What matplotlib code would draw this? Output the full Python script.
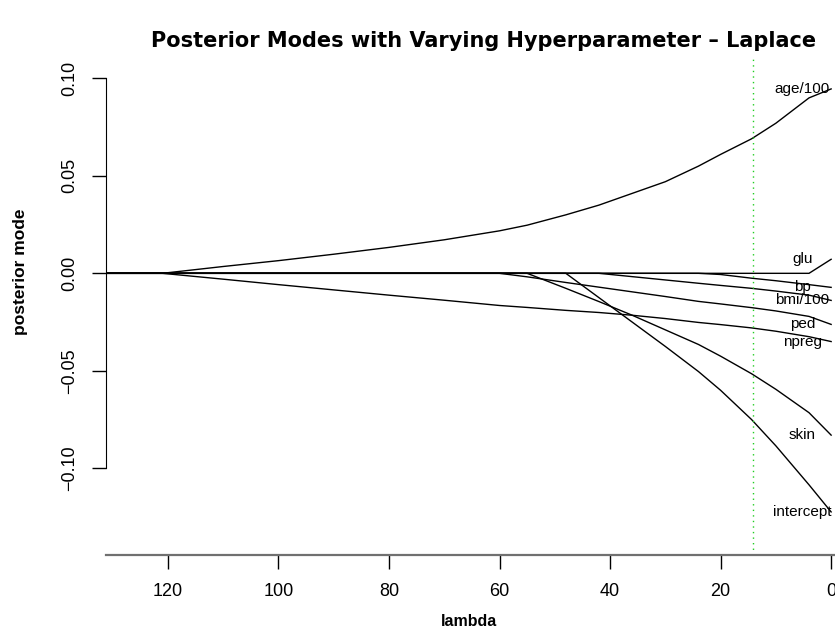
import matplotlib
matplotlib.use('Agg')
import matplotlib.pyplot as plt

plt.rcParams['font.family'] = ['Liberation Sans', 'DejaVu Sans']

# lambda grid shared by all coefficient paths
lam = [131, 121, 110, 100, 90, 80, 70, 60, 55, 48, 42, 36, 30, 24, 20, 14.4, 10, 4, 0]

age = [0, 0, 0.0035, 0.0065, 0.0098, 0.0133, 0.0172, 0.0218, 0.0247, 0.030, 0.035,
       0.041, 0.047, 0.055, 0.061, 0.069, 0.077, 0.090, 0.0946]
glu = [0, 0, 0, 0, 0, 0, 0, 0, 0, 0, 0, 0, 0, 0, 0, 0, 0, 0, 0.0072]
bp = [0, 0, 0, 0, 0, 0, 0, 0, 0, 0, 0, 0, 0, 0, -0.0006, -0.0025, -0.0038, -0.0058, -0.0072]
bmi = [0, 0, 0, 0, 0, 0, 0, 0, 0, 0, 0, -0.0017, -0.0034, -0.0051, -0.0062, -0.0077,
       -0.0091, -0.0112, -0.0139]
ped = [0, 0, 0, 0, 0, 0, 0, 0, -0.0018, -0.0047, -0.0071, -0.0095, -0.0119, -0.0144,
       -0.0157, -0.0176, -0.0193, -0.0221, -0.0262]
npreg = [0, 0, -0.003, -0.0058, -0.0085, -0.0112, -0.0138, -0.0165, -0.0175, -0.019,
         -0.0201, -0.0215, -0.0232, -0.0252, -0.0263, -0.028, -0.0297, -0.0325, -0.035]
skin = [0, 0, 0, 0, 0, 0, 0, 0, 0, -0.0077, -0.0145, -0.0215, -0.029, -0.0365, -0.0425,
        -0.0515, -0.0595, -0.0715, -0.083]
intercept = [0, 0, 0, 0, 0, 0, 0, 0, 0, 0, -0.0125, -0.025, -0.0375, -0.0504, -0.060,
             -0.075, -0.0885, -0.1085, -0.1224]

paths = [age, glu, bp, bmi, ped, npreg, skin, intercept]
names = ['age/100', 'glu', 'bp', 'bmi/100', 'ped', 'npreg', 'skin', 'intercept']

lam_opt = 14.1
x_ticks = [120, 100, 80, 60, 40, 20, 0]
y_ticks = [0.10, 0.05, 0.00, -0.05, -0.10]
y_tick_labels = ['0.10', '0.05', '0.00', '\u22120.05', '\u22120.10']

fig = plt.figure(figsize=(8.35, 6.36), dpi=100)
ax = fig.add_axes([106 / 835, 81 / 636, 729 / 835, 500 / 636])

for vals in paths:
    ax.plot(lam, vals, color='black', lw=1.0)

for name, vals in zip(names, paths):
    ax.text(5.2, vals[-1], name, fontsize=11, ha='center', va='center')

ax.axvline(lam_opt, color='#22cc22', lw=1, ls=(0, (1, 3)))

ax.set_xlim(131.2, -0.7)
ax.set_ylim(-0.1445, 0.112)

ax.spines['top'].set_visible(False)
ax.spines['right'].set_visible(False)
ax.spines['left'].set_bounds(-0.10, 0.10)
ax.spines['bottom'].set_color('#707070')
ax.spines['bottom'].set_linewidth(1.6)

ax.set_xticks(x_ticks)
ax.set_xticklabels([str(t) for t in x_ticks])
ax.set_yticks(y_ticks)
ax.set_yticklabels(y_tick_labels, rotation=90, va='center')
ax.tick_params(axis='both', length=10, width=1, labelsize=13, pad=10, color='black')

fig.text(484 / 835, 1 - 41 / 636, 'Posterior Modes with Varying Hyperparameter \u2013 Laplace',
         ha='center', va='center', fontsize=15, fontweight='bold', family='DejaVu Sans')
fig.text(469 / 835, 1 - 621 / 636, 'lambda', ha='center', va='center', fontsize=11.5,
         fontweight='bold')
fig.text(21 / 835, 1 - 272 / 636, 'posterior mode', ha='center', va='center', fontsize=12.5,
         fontweight='bold', rotation=90)

fig.savefig('out.png', dpi=100)
plt.close(fig)
